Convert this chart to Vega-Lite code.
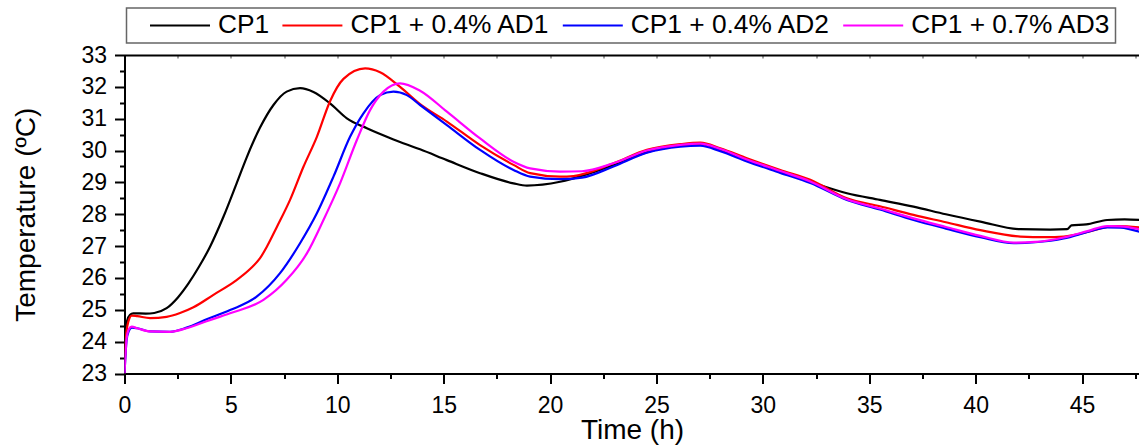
{
  "$schema": "https://vega.github.io/schema/vega-lite/v6.json",
  "width": 1015,
  "height": 318.5,
  "autosize": "none",
  "padding": {"left": 124.5, "top": 55, "right": 0, "bottom": 74.5},
  "background": "white",
  "config": {
    "view": {"stroke": null},
    "font": "Liberation Sans",
    "axis": {
      "grid": false,
      "domainColor": "black",
      "domainWidth": 2,
      "tickColor": "black",
      "tickWidth": 2,
      "labelFont": "Liberation Sans",
      "labelFontSize": 23,
      "labelColor": "black",
      "titleFont": "Liberation Sans",
      "titleFontSize": 28,
      "titleFontWeight": "normal",
      "titleColor": "black"
    }
  },
  "datasets": {
    "curves": [
      {"series": "CP1", "time": 0, "temp": 23.0},
      {"series": "CP1", "time": 0.05, "temp": 24.1},
      {"series": "CP1", "time": 0.12, "temp": 24.65},
      {"series": "CP1", "time": 0.26, "temp": 24.84},
      {"series": "CP1", "time": 0.41, "temp": 24.89},
      {"series": "CP1", "time": 1.0, "temp": 24.88},
      {"series": "CP1", "time": 1.4, "temp": 24.9},
      {"series": "CP1", "time": 1.98, "temp": 25.05},
      {"series": "CP1", "time": 2.5, "temp": 25.38},
      {"series": "CP1", "time": 3.0, "temp": 25.82},
      {"series": "CP1", "time": 3.5, "temp": 26.35},
      {"series": "CP1", "time": 4.02, "temp": 26.98},
      {"series": "CP1", "time": 4.65, "temp": 27.92},
      {"series": "CP1", "time": 5.27, "temp": 28.97},
      {"series": "CP1", "time": 5.74, "temp": 29.78},
      {"series": "CP1", "time": 6.37, "temp": 30.72},
      {"series": "CP1", "time": 7.0, "temp": 31.43},
      {"series": "CP1", "time": 7.62, "temp": 31.85},
      {"series": "CP1", "time": 8.25, "temp": 31.96},
      {"series": "CP1", "time": 8.88, "temp": 31.84},
      {"series": "CP1", "time": 9.66, "temp": 31.48},
      {"series": "CP1", "time": 10.45, "temp": 31.01},
      {"series": "CP1", "time": 11.39, "temp": 30.7},
      {"series": "CP1", "time": 12.64, "temp": 30.35},
      {"series": "CP1", "time": 13.89, "temp": 30.04},
      {"series": "CP1", "time": 15.15, "temp": 29.7},
      {"series": "CP1", "time": 16.71, "temp": 29.29},
      {"series": "CP1", "time": 18.28, "temp": 28.97},
      {"series": "CP1", "time": 18.91, "temp": 28.9},
      {"series": "CP1", "time": 20.47, "temp": 29.02},
      {"series": "CP1", "time": 21.88, "temp": 29.29},
      {"series": "CP1", "time": 23.0, "temp": 29.55},
      {"series": "CP1", "time": 24.55, "temp": 29.95},
      {"series": "CP1", "time": 26.12, "temp": 30.15},
      {"series": "CP1", "time": 27.06, "temp": 30.2},
      {"series": "CP1", "time": 28.0, "temp": 30.03},
      {"series": "CP1", "time": 29.25, "temp": 29.72},
      {"series": "CP1", "time": 30.82, "temp": 29.34},
      {"series": "CP1", "time": 32.3, "temp": 29.0},
      {"series": "CP1", "time": 33.95, "temp": 28.66},
      {"series": "CP1", "time": 35.5, "temp": 28.45},
      {"series": "CP1", "time": 37.08, "temp": 28.24},
      {"series": "CP1", "time": 38.6, "temp": 28.0},
      {"series": "CP1", "time": 40.22, "temp": 27.77},
      {"series": "CP1", "time": 42.1, "temp": 27.53},
      {"series": "CP1", "time": 43.5, "temp": 27.52},
      {"series": "CP1", "time": 44.3, "temp": 27.53},
      {"series": "CP1", "time": 44.5, "temp": 27.65},
      {"series": "CP1", "time": 45.2, "temp": 27.68},
      {"series": "CP1", "time": 46.18, "temp": 27.82},
      {"series": "CP1", "time": 47.0, "temp": 27.84},
      {"series": "CP1", "time": 47.7, "temp": 27.82},

      {"series": "CP1 + 0.4% AD1", "time": 0, "temp": 23.0},
      {"series": "CP1 + 0.4% AD1", "time": 0.05, "temp": 24.0},
      {"series": "CP1 + 0.4% AD1", "time": 0.18, "temp": 24.63},
      {"series": "CP1 + 0.4% AD1", "time": 0.34, "temp": 24.82},
      {"series": "CP1 + 0.4% AD1", "time": 0.6, "temp": 24.8},
      {"series": "CP1 + 0.4% AD1", "time": 1.2, "temp": 24.74},
      {"series": "CP1 + 0.4% AD1", "time": 1.98, "temp": 24.78},
      {"series": "CP1 + 0.4% AD1", "time": 2.61, "temp": 24.9},
      {"series": "CP1 + 0.4% AD1", "time": 3.24, "temp": 25.08},
      {"series": "CP1 + 0.4% AD1", "time": 4.18, "temp": 25.47},
      {"series": "CP1 + 0.4% AD1", "time": 5.2, "temp": 25.9},
      {"series": "CP1 + 0.4% AD1", "time": 5.9, "temp": 26.28},
      {"series": "CP1 + 0.4% AD1", "time": 6.37, "temp": 26.62},
      {"series": "CP1 + 0.4% AD1", "time": 6.69, "temp": 26.98},
      {"series": "CP1 + 0.4% AD1", "time": 7.16, "temp": 27.6},
      {"series": "CP1 + 0.4% AD1", "time": 7.78, "temp": 28.45},
      {"series": "CP1 + 0.4% AD1", "time": 8.41, "temp": 29.49},
      {"series": "CP1 + 0.4% AD1", "time": 9.04, "temp": 30.43},
      {"series": "CP1 + 0.4% AD1", "time": 9.66, "temp": 31.55},
      {"series": "CP1 + 0.4% AD1", "time": 10.29, "temp": 32.25},
      {"series": "CP1 + 0.4% AD1", "time": 11.31, "temp": 32.58},
      {"series": "CP1 + 0.4% AD1", "time": 12.01, "temp": 32.46},
      {"series": "CP1 + 0.4% AD1", "time": 12.95, "temp": 32.0},
      {"series": "CP1 + 0.4% AD1", "time": 13.89, "temp": 31.46},
      {"series": "CP1 + 0.4% AD1", "time": 15.15, "temp": 30.91},
      {"series": "CP1 + 0.4% AD1", "time": 16.71, "temp": 30.17},
      {"series": "CP1 + 0.4% AD1", "time": 18.28, "temp": 29.55},
      {"series": "CP1 + 0.4% AD1", "time": 19.06, "temp": 29.29},
      {"series": "CP1 + 0.4% AD1", "time": 20.47, "temp": 29.18},
      {"series": "CP1 + 0.4% AD1", "time": 21.1, "temp": 29.2},
      {"series": "CP1 + 0.4% AD1", "time": 22.98, "temp": 29.6},
      {"series": "CP1 + 0.4% AD1", "time": 24.55, "temp": 30.02},
      {"series": "CP1 + 0.4% AD1", "time": 26.12, "temp": 30.2},
      {"series": "CP1 + 0.4% AD1", "time": 27.06, "temp": 30.25},
      {"series": "CP1 + 0.4% AD1", "time": 28.0, "temp": 30.07},
      {"series": "CP1 + 0.4% AD1", "time": 29.25, "temp": 29.76},
      {"series": "CP1 + 0.4% AD1", "time": 30.82, "temp": 29.39},
      {"series": "CP1 + 0.4% AD1", "time": 32.23, "temp": 29.08},
      {"series": "CP1 + 0.4% AD1", "time": 33.95, "temp": 28.5},
      {"series": "CP1 + 0.4% AD1", "time": 35.5, "temp": 28.25},
      {"series": "CP1 + 0.4% AD1", "time": 37.08, "temp": 27.98},
      {"series": "CP1 + 0.4% AD1", "time": 38.6, "temp": 27.75},
      {"series": "CP1 + 0.4% AD1", "time": 40.22, "temp": 27.5},
      {"series": "CP1 + 0.4% AD1", "time": 42.1, "temp": 27.3},
      {"series": "CP1 + 0.4% AD1", "time": 43.3, "temp": 27.28},
      {"series": "CP1 + 0.4% AD1", "time": 44.14, "temp": 27.3},
      {"series": "CP1 + 0.4% AD1", "time": 45.3, "temp": 27.45},
      {"series": "CP1 + 0.4% AD1", "time": 46.18, "temp": 27.6},
      {"series": "CP1 + 0.4% AD1", "time": 46.7, "temp": 27.63},
      {"series": "CP1 + 0.4% AD1", "time": 47.7, "temp": 27.59},

      {"series": "CP1 + 0.4% AD2", "time": 0, "temp": 23.0},
      {"series": "CP1 + 0.4% AD2", "time": 0.1, "temp": 24.05},
      {"series": "CP1 + 0.4% AD2", "time": 0.2, "temp": 24.33},
      {"series": "CP1 + 0.4% AD2", "time": 0.34, "temp": 24.44},
      {"series": "CP1 + 0.4% AD2", "time": 0.6, "temp": 24.42},
      {"series": "CP1 + 0.4% AD2", "time": 1.2, "temp": 24.32},
      {"series": "CP1 + 0.4% AD2", "time": 2.14, "temp": 24.31},
      {"series": "CP1 + 0.4% AD2", "time": 2.92, "temp": 24.44},
      {"series": "CP1 + 0.4% AD2", "time": 3.86, "temp": 24.7},
      {"series": "CP1 + 0.4% AD2", "time": 4.96, "temp": 24.99},
      {"series": "CP1 + 0.4% AD2", "time": 6.21, "temp": 25.41},
      {"series": "CP1 + 0.4% AD2", "time": 7.31, "temp": 26.15},
      {"series": "CP1 + 0.4% AD2", "time": 8.25, "temp": 27.09},
      {"series": "CP1 + 0.4% AD2", "time": 9.04, "temp": 28.03},
      {"series": "CP1 + 0.4% AD2", "time": 9.82, "temp": 29.18},
      {"series": "CP1 + 0.4% AD2", "time": 10.6, "temp": 30.43},
      {"series": "CP1 + 0.4% AD2", "time": 11.23, "temp": 31.17},
      {"series": "CP1 + 0.4% AD2", "time": 12.01, "temp": 31.74},
      {"series": "CP1 + 0.4% AD2", "time": 12.64, "temp": 31.85},
      {"series": "CP1 + 0.4% AD2", "time": 13.27, "temp": 31.74},
      {"series": "CP1 + 0.4% AD2", "time": 13.89, "temp": 31.43},
      {"series": "CP1 + 0.4% AD2", "time": 15.15, "temp": 30.8},
      {"series": "CP1 + 0.4% AD2", "time": 16.71, "temp": 30.02},
      {"series": "CP1 + 0.4% AD2", "time": 18.28, "temp": 29.39},
      {"series": "CP1 + 0.4% AD2", "time": 19.06, "temp": 29.18},
      {"series": "CP1 + 0.4% AD2", "time": 20.47, "temp": 29.1},
      {"series": "CP1 + 0.4% AD2", "time": 21.5, "temp": 29.15},
      {"series": "CP1 + 0.4% AD2", "time": 22.98, "temp": 29.5},
      {"series": "CP1 + 0.4% AD2", "time": 24.55, "temp": 29.93},
      {"series": "CP1 + 0.4% AD2", "time": 26.12, "temp": 30.12},
      {"series": "CP1 + 0.4% AD2", "time": 27.06, "temp": 30.15},
      {"series": "CP1 + 0.4% AD2", "time": 28.0, "temp": 29.98},
      {"series": "CP1 + 0.4% AD2", "time": 29.25, "temp": 29.66},
      {"series": "CP1 + 0.4% AD2", "time": 30.82, "temp": 29.3},
      {"series": "CP1 + 0.4% AD2", "time": 32.23, "temp": 28.98},
      {"series": "CP1 + 0.4% AD2", "time": 33.95, "temp": 28.45},
      {"series": "CP1 + 0.4% AD2", "time": 35.5, "temp": 28.15},
      {"series": "CP1 + 0.4% AD2", "time": 37.08, "temp": 27.82},
      {"series": "CP1 + 0.4% AD2", "time": 38.6, "temp": 27.55},
      {"series": "CP1 + 0.4% AD2", "time": 40.22, "temp": 27.28},
      {"series": "CP1 + 0.4% AD2", "time": 41.79, "temp": 27.09},
      {"series": "CP1 + 0.4% AD2", "time": 42.8, "temp": 27.12},
      {"series": "CP1 + 0.4% AD2", "time": 44.14, "temp": 27.24},
      {"series": "CP1 + 0.4% AD2", "time": 45.3, "temp": 27.45},
      {"series": "CP1 + 0.4% AD2", "time": 46.18, "temp": 27.59},
      {"series": "CP1 + 0.4% AD2", "time": 46.8, "temp": 27.58},
      {"series": "CP1 + 0.4% AD2", "time": 47.7, "temp": 27.45},

      {"series": "CP1 + 0.7% AD3", "time": 0, "temp": 23.0},
      {"series": "CP1 + 0.7% AD3", "time": 0.1, "temp": 24.1},
      {"series": "CP1 + 0.7% AD3", "time": 0.2, "temp": 24.38},
      {"series": "CP1 + 0.7% AD3", "time": 0.34, "temp": 24.47},
      {"series": "CP1 + 0.7% AD3", "time": 0.6, "temp": 24.42},
      {"series": "CP1 + 0.7% AD3", "time": 1.2, "temp": 24.32},
      {"series": "CP1 + 0.7% AD3", "time": 2.14, "temp": 24.31},
      {"series": "CP1 + 0.7% AD3", "time": 2.92, "temp": 24.42},
      {"series": "CP1 + 0.7% AD3", "time": 3.86, "temp": 24.64},
      {"series": "CP1 + 0.7% AD3", "time": 4.96, "temp": 24.89},
      {"series": "CP1 + 0.7% AD3", "time": 6.53, "temp": 25.31},
      {"series": "CP1 + 0.7% AD3", "time": 7.62, "temp": 25.94},
      {"series": "CP1 + 0.7% AD3", "time": 8.57, "temp": 26.77},
      {"series": "CP1 + 0.7% AD3", "time": 9.35, "temp": 27.82},
      {"series": "CP1 + 0.7% AD3", "time": 10.13, "temp": 28.97},
      {"series": "CP1 + 0.7% AD3", "time": 10.92, "temp": 30.33},
      {"series": "CP1 + 0.7% AD3", "time": 11.54, "temp": 31.27},
      {"series": "CP1 + 0.7% AD3", "time": 12.17, "temp": 31.85},
      {"series": "CP1 + 0.7% AD3", "time": 12.95, "temp": 32.11},
      {"series": "CP1 + 0.7% AD3", "time": 13.89, "temp": 31.88},
      {"series": "CP1 + 0.7% AD3", "time": 15.15, "temp": 31.22},
      {"series": "CP1 + 0.7% AD3", "time": 16.71, "temp": 30.38},
      {"series": "CP1 + 0.7% AD3", "time": 18.28, "temp": 29.65},
      {"series": "CP1 + 0.7% AD3", "time": 19.06, "temp": 29.44},
      {"series": "CP1 + 0.7% AD3", "time": 20.47, "temp": 29.34},
      {"series": "CP1 + 0.7% AD3", "time": 21.5, "temp": 29.35},
      {"series": "CP1 + 0.7% AD3", "time": 22.98, "temp": 29.6},
      {"series": "CP1 + 0.7% AD3", "time": 24.55, "temp": 30.0},
      {"series": "CP1 + 0.7% AD3", "time": 26.12, "temp": 30.18},
      {"series": "CP1 + 0.7% AD3", "time": 27.06, "temp": 30.22},
      {"series": "CP1 + 0.7% AD3", "time": 28.0, "temp": 30.05},
      {"series": "CP1 + 0.7% AD3", "time": 29.25, "temp": 29.72},
      {"series": "CP1 + 0.7% AD3", "time": 30.82, "temp": 29.36},
      {"series": "CP1 + 0.7% AD3", "time": 32.23, "temp": 29.03},
      {"series": "CP1 + 0.7% AD3", "time": 33.95, "temp": 28.47},
      {"series": "CP1 + 0.7% AD3", "time": 35.5, "temp": 28.18},
      {"series": "CP1 + 0.7% AD3", "time": 37.08, "temp": 27.87},
      {"series": "CP1 + 0.7% AD3", "time": 38.6, "temp": 27.6},
      {"series": "CP1 + 0.7% AD3", "time": 40.22, "temp": 27.32},
      {"series": "CP1 + 0.7% AD3", "time": 41.79, "temp": 27.11},
      {"series": "CP1 + 0.7% AD3", "time": 42.8, "temp": 27.13},
      {"series": "CP1 + 0.7% AD3", "time": 44.14, "temp": 27.27},
      {"series": "CP1 + 0.7% AD3", "time": 45.3, "temp": 27.48},
      {"series": "CP1 + 0.7% AD3", "time": 46.18, "temp": 27.63},
      {"series": "CP1 + 0.7% AD3", "time": 46.8, "temp": 27.62},
      {"series": "CP1 + 0.7% AD3", "time": 47.7, "temp": 27.53}
    ],
    "anchor": [{"time": 0, "temp": 23}]
  },
  "resolve": {"axis": {"x": "independent", "y": "independent"}},
  "layer": [
    {
      "data": {"name": "curves"},
      "mark": {"type": "line", "strokeWidth": 2.2, "interpolate": "monotone", "clip": true},
      "encoding": {
        "x": {
          "field": "time", "type": "quantitative",
          "scale": {"domain": [0, 47.7], "nice": false, "zero": false},
          "axis": {
            "orient": "bottom",
            "title": "Time (h)",
            "values": [0, 5, 10, 15, 20, 25, 30, 35, 40, 45],
            "tickSize": 10,
            "labelPadding": 11,
            "titlePadding": -1,
            "labelFlush": false
          }
        },
        "y": {
          "field": "temp", "type": "quantitative",
          "scale": {"domain": [23, 33], "nice": false, "zero": false},
          "axis": {
            "orient": "left",
            "title": "Temperature (ºC)",
            "values": [23, 24, 25, 26, 27, 28, 29, 30, 31, 32, 33],
            "tickSize": 10,
            "labelPadding": 8,
            "titlePadding": 40
          }
        },
        "color": {
          "field": "series", "type": "nominal",
          "scale": {
            "domain": ["CP1", "CP1 + 0.4% AD1", "CP1 + 0.4% AD2", "CP1 + 0.7% AD3"],
            "range": ["#000000", "#ff0000", "#0000ff", "#ff00ff"]
          },
          "legend": {
            "orient": "none",
            "legendX": 2,
            "legendY": -47,
            "direction": "horizontal",
            "title": " ",
            "titleOrient": "left",
            "titleFontSize": 26.3,
            "titlePadding": 19.5,
            "symbolType": "M-3,0H3",
            "symbolSize": 400,
            "symbolStrokeWidth": 2,
            "symbolOffset": 16.85,
            "labelOffset": 24.85,
            "columnPadding": 8.4,
            "labelFont": "Liberation Sans",
            "labelFontSize": 26.3,
            "labelLimit": 400,
            "labelColor": "black",
            "padding": 4,
            "strokeColor": "#666666",
            "fillColor": "white",
            "encode": {"legend": {"update": {"strokeWidth": {"value": 1.5}}}}
          }
        },
        "order": {"field": "time", "type": "quantitative"}
      }
    },
    {
      "data": {"name": "anchor"},
      "mark": {"type": "point", "opacity": 0},
      "encoding": {
        "x": {
          "field": "time", "type": "quantitative",
          "scale": {"domain": [0, 47.7], "nice": false, "zero": false},
          "axis": {
            "orient": "bottom", "title": null, "labels": false, "domain": false,
            "values": [2.5, 7.5, 12.5, 17.5, 22.5, 27.5, 32.5, 37.5, 42.5, 47.5],
            "tickSize": 5
          }
        },
        "y": {
          "field": "temp", "type": "quantitative",
          "scale": {"domain": [23, 33], "nice": false, "zero": false},
          "axis": {
            "orient": "left", "title": null, "labels": false, "domain": false,
            "values": [23.5, 24.5, 25.5, 26.5, 27.5, 28.5, 29.5, 30.5, 31.5, 32.5],
            "tickSize": 5
          }
        }
      }
    },
    {
      "data": {"name": "anchor"},
      "mark": {"type": "point", "opacity": 0},
      "encoding": {
        "x": {
          "field": "time", "type": "quantitative",
          "scale": {"domain": [0, 47.7], "nice": false, "zero": false},
          "axis": {
            "orient": "top", "title": null, "labels": false, "domain": true,
            "values": [2.5, 5, 7.5, 10, 12.5, 15, 17.5, 20, 22.5, 25, 27.5, 30, 32.5, 35, 37.5, 40, 42.5, 45, 47.5],
            "tickSize": -3, "tickWidth": 1, "tickColor": "#444444"
          }
        },
        "y": {
          "field": "temp", "type": "quantitative",
          "scale": {"domain": [23, 33], "nice": false, "zero": false},
          "axis": null
        }
      }
    }
  ]
}
